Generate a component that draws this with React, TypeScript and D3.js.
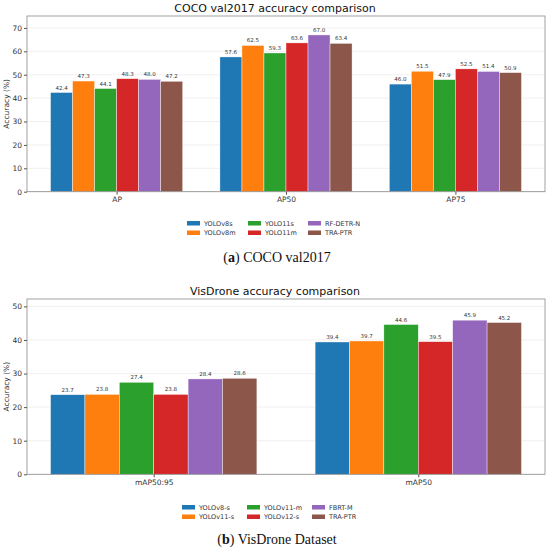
import React, { useEffect, useRef } from 'react';
import * as d3 from 'd3';

const colors = ['#1f77b4', '#ff7f0e', '#2ca02c', '#d62728', '#9467bd', '#8c564b'];

// panel (a)
const cocoMetrics = ['AP', 'AP50', 'AP75'];
const cocoModels = ['YOLOv8s', 'YOLOv8m', 'YOLO11s', 'YOLO11m', 'RF-DETR-N', 'TRA-PTR'];
const cocoValues = [
    [42.4, 57.6, 46.0],
    [47.3, 62.5, 51.5],
    [44.1, 59.3, 47.9],
    [48.3, 63.6, 52.5],
    [48.0, 67.0, 51.4],
    [47.2, 63.4, 50.9],
];
const cocoTicks = [0, 10, 20, 30, 40, 50, 60, 70];

// panel (b)
const visMetrics = ['mAP50:95', 'mAP50'];
const visModels = ['YOLOv8-s', 'YOLOv11-s', 'YOLOv11-m', 'YOLOv12-s', 'FBRT-M', 'TRA-PTR'];
const visValues = [
    [23.7, 39.4],
    [23.8, 39.7],
    [27.4, 44.6],
    [23.8, 39.5],
    [28.4, 45.9],
    [28.6, 45.2],
];
const visTicks = [0, 10, 20, 30, 40, 50];

const SANS = 'DejaVu Sans, sans-serif';

interface PanelOpts {
    title: string;
    metrics: string[];
    models: string[];
    values: number[][];
    ticks: number[];
    yMax: number;
    top: number;
    bottom: number;
    legendY: number;
    legendCols: number[];
    caption: [string, string];
    captionY: number;
}

function drawPanel(svg: d3.Selection<SVGSVGElement, unknown, null, undefined>, o: PanelOpts) {
    const left = 27, right = 545;
    const barW = 0.13;
    const n = o.models.length;
    const lo = -barW * n / 2;
    const hi = o.metrics.length - 1 + barW * n / 2;
    const pad = (hi - lo) * 0.05;

    const x = d3.scaleLinear().domain([lo - pad, hi + pad]).range([left, right]);
    const y = d3.scaleLinear().domain([0, o.yMax]).range([o.bottom, o.top]);

    const g = svg.append('g');

    // grid
    g.selectAll('.grid')
        .data(o.ticks)
        .enter().append('line')
        .attr('x1', left).attr('x2', right)
        .attr('y1', d => y(d)).attr('y2', d => y(d))
        .attr('stroke', '#e6e6e6').attr('stroke-width', 0.6);

    // bars
    o.models.forEach((m, i) => {
        const off = (i - (n - 1) / 2) * barW;
        g.selectAll(`.bar${i}`)
            .data(o.values[i])
            .enter().append('rect')
            .attr('x', (d, j) => x(j + off - barW / 2))
            .attr('width', x(barW) - x(0))
            .attr('y', d => y(d))
            .attr('height', d => o.bottom - y(d))
            .attr('fill', colors[i])
            .attr('stroke', '#fff')
            .attr('stroke-width', 0.4);

        g.selectAll(`.lab${i}`)
            .data(o.values[i])
            .enter().append('text')
            .attr('x', (d, j) => x(j + off))
            .attr('y', d => y(d) - 3)
            .attr('text-anchor', 'middle')
            .attr('font-family', SANS)
            .attr('font-size', 5.5)
            .attr('fill', '#333')
            .text(d => d.toFixed(1));
    });

    // frame
    g.append('rect')
        .attr('x', left).attr('y', o.top)
        .attr('width', right - left).attr('height', o.bottom - o.top)
        .attr('fill', 'none').attr('stroke', '#8a8a8a').attr('stroke-width', 0.8);

    // y axis
    const yAxis = g.append('g')
        .attr('transform', `translate(${left},0)`)
        .call(d3.axisLeft(y).tickValues(o.ticks).tickSize(3).tickPadding(2).tickFormat(d3.format('d')));
    yAxis.select('.domain').remove();
    yAxis.selectAll('line').attr('stroke', '#555');
    yAxis.selectAll('text').attr('font-family', SANS).attr('font-size', 7.5).attr('fill', '#333');

    // x axis
    const xAxis = g.append('g')
        .attr('transform', `translate(0,${o.bottom})`)
        .call(d3.axisBottom(x).tickValues(d3.range(o.metrics.length)).tickSize(3).tickPadding(2)
            .tickFormat(d => o.metrics[d as number]));
    xAxis.select('.domain').remove();
    xAxis.selectAll('line').attr('stroke', '#555');
    xAxis.selectAll('text').attr('font-family', SANS).attr('font-size', 7.5).attr('fill', '#333');

    // y label
    g.append('text')
        .attr('transform', `translate(9,${(o.top + o.bottom) / 2}) rotate(-90)`)
        .attr('text-anchor', 'middle')
        .attr('font-family', SANS)
        .attr('font-size', 7.5)
        .attr('fill', '#333')
        .text('Accuracy (%)');

    // title
    g.append('text')
        .attr('x', 275)
        .attr('y', o.top - 4)
        .attr('text-anchor', 'middle')
        .attr('font-family', SANS)
        .attr('font-size', 11)
        .attr('fill', '#111')
        .text(o.title);

    // legend: 3 columns x 2 rows
    const leg = g.append('g');
    o.models.forEach((m, i) => {
        const col = Math.floor(i / 2);
        const row = i % 2;
        const lx = o.legendCols[col];
        const ly = o.legendY + row * 9.5;
        leg.append('rect')
            .attr('x', lx).attr('y', ly - 2)
            .attr('width', 13).attr('height', 4.5)
            .attr('fill', colors[i]);
        leg.append('text')
            .attr('x', lx + 17).attr('y', ly + 2.5)
            .attr('font-family', SANS)
            .attr('font-size', 6.5)
            .attr('fill', '#333')
            .text(m);
    });

    // caption
    const cap = g.append('text')
        .attr('x', 277)
        .attr('y', o.captionY)
        .attr('text-anchor', 'middle')
        .attr('font-family', 'Liberation Serif, serif')
        .attr('font-size', 14)
        .attr('fill', '#111');
    cap.append('tspan').text('(');
    cap.append('tspan').attr('font-weight', 'bold').text(o.caption[0]);
    cap.append('tspan').text(') ' + o.caption[1]);
}

const App: React.FC = () => {
    const ref = useRef<SVGSVGElement>(null);

    useEffect(() => {
        const svg = d3.select(ref.current!);
        svg.selectAll('*').remove();

        drawPanel(svg, {
            title: 'COCO val2017 accuracy comparison',
            metrics: cocoMetrics,
            models: cocoModels,
            values: cocoValues,
            ticks: cocoTicks,
            yMax: 75.1,
            top: 16,
            bottom: 191.7,
            legendY: 223,
            legendCols: [187, 248, 308],
            caption: ['a', 'COCO val2017'],
            captionY: 262,
        });

        drawPanel(svg, {
            title: 'VisDrone accuracy comparison',
            metrics: visMetrics,
            models: visModels,
            values: visValues,
            ticks: visTicks,
            yMax: 52.2,
            top: 299,
            bottom: 474.3,
            legendY: 507,
            legendCols: [182, 247, 312],
            caption: ['b', 'VisDrone Dataset'],
            captionY: 544,
        });
    }, []);

    return (
        <svg ref={ref} width={550} height={552}
            style={{ position: 'absolute', left: 0, top: 0, background: '#fff' }} />
    );
};

export default App;
